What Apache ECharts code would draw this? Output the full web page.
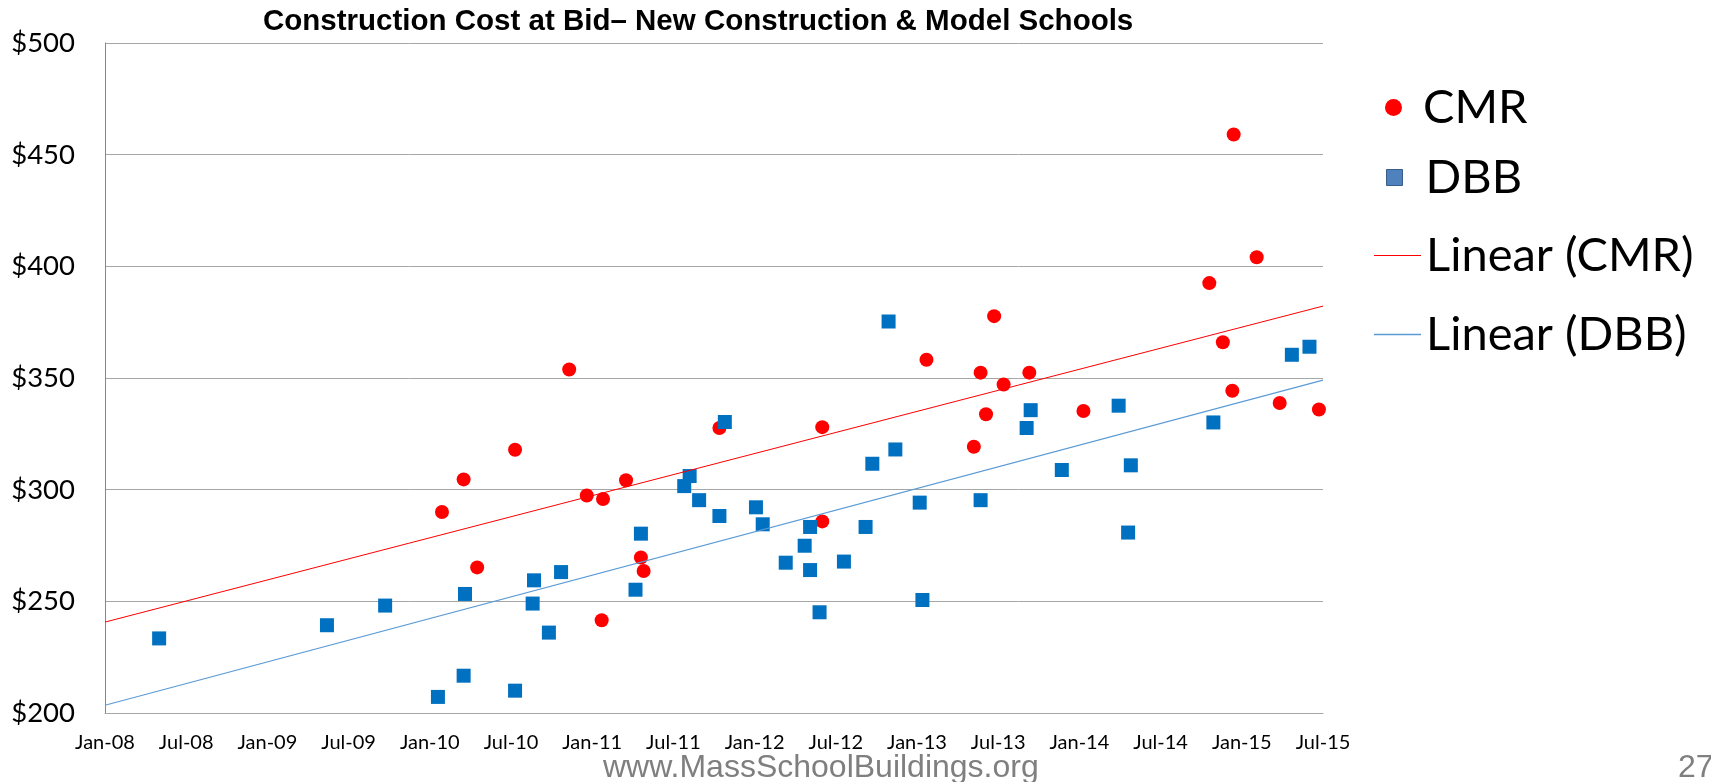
<!DOCTYPE html>
<html>
<head>
<meta charset="utf-8">
<title>Construction Cost at Bid</title>
<script src="https://cdn.jsdelivr.net/npm/echarts@6/dist/echarts.min.js"></script>
<style>
  html, body { margin: 0; padding: 0; background: #fff; }
  #chart { width: 1711px; height: 782px; }
</style>
</head>
<body>
<div id="chart"></div>
<script>
// x = months after Jan-08, y = cost in $
const cmrMonths = [24.9, 26.5, 27.5, 30.3, 34.3, 35.6, 36.8, 36.7, 38.5, 39.6, 39.8, 45.4, 53.0, 53.0, 60.7,
  64.2, 64.7, 65.1, 65.7, 66.4, 68.3, 72.3, 81.6, 82.6, 83.4, 83.3, 85.1, 86.8, 89.7]
const cmrCost = [290, 304.6, 265.2, 317.9, 353.8, 297.4, 295.8, 241.5, 304.2, 269.6, 263.6, 327.6, 328, 285.8, 358.2,
  319.2, 352.4, 333.8, 377.7, 347.1, 352.4, 335.2, 392.5, 366, 459, 344.3, 404.1, 338.8, 335.9]

const dbbMonths = [4.0, 16.4, 20.7, 24.6, 26.5, 26.6, 30.3, 31.7, 31.6, 32.8, 33.7, 39.2, 39.6, 42.8, 43.2,
  43.9, 45.4, 45.8, 48.1, 48.6, 50.3, 51.7, 52.1, 52.1, 52.8, 54.6, 56.2, 56.7, 57.9, 58.4,
  60.2, 60.4, 64.7, 68.1, 68.4, 70.7, 74.9, 75.6, 75.8, 81.9, 87.7, 89.0]
const dbbCost = [233.4, 239.3, 248.1, 207.2, 216.7, 253.3, 210, 259.4, 249, 236, 263.1, 255.2, 280.3, 301.6, 306.1,
  295.3, 288.2, 330.3, 292.1, 284.5, 267.3, 274.9, 283.3, 264, 245.1, 267.8, 283.3, 311.6, 375.3, 318,
  294.2, 250.6, 295.3, 327.6, 335.6, 308.8, 337.6, 280.8, 310.9, 330.1, 360.4, 364]

const xTickLabels = ['Jan-08', 'Jul-08', 'Jan-09', 'Jul-09', 'Jan-10', 'Jul-10', 'Jan-11', 'Jul-11',
  'Jan-12', 'Jul-12', 'Jan-13', 'Jul-13', 'Jan-14', 'Jul-14', 'Jan-15', 'Jul-15']

const xMax = (xTickLabels.length - 1) * 6

function pairs(xs, ys) {
  return xs.map((x, i) => [x, ys[i]])
}

// least squares trend line across the whole axis
function linear(xs, ys) {
  const n = xs.length
  const mx = xs.reduce((s, v) => s + v, 0) / n
  const my = ys.reduce((s, v) => s + v, 0) / n
  let sxy = 0, sxx = 0
  xs.forEach((x, i) => {
    sxy += (x - mx) * (ys[i] - my)
    sxx += (x - mx) * (x - mx)
  })
  const b = sxy / sxx
  const a = my - b * mx
  return [[0, a], [xMax, a + b * xMax]]
}

const legendText = {
  color: '#000',
  fontFamily: 'Lato',
  fontSize: 47
}

const option = {
  animation: false,
  backgroundColor: '#fff',
  title: {
    text: 'Construction Cost at Bid\u2013 New Construction & Model Schools',
    left: 258,
    top: 2,
    textStyle: {
      fontFamily: 'Liberation Sans',
      fontWeight: 'bold',
      fontSize: 29.5,
      color: '#000'
    }
  },
  grid: { left: 105, top: 43, width: 1218, height: 670 },
  legend: [
    {
      data: [{ name: 'CMR', icon: 'circle' }],
      left: 1385, top: 84,
      padding: 0,
      itemWidth: 17, itemHeight: 17,
      selectedMode: false,
      textStyle: Object.assign({ padding: [0, 0, 0, 16] }, legendText)
    },
    {
      data: [{ name: 'DBB', icon: 'rect', itemStyle: { color: '#4F81BD', borderColor: '#385D8A', borderWidth: 1 } }],
      left: 1386, top: 154,
      padding: 0,
      itemWidth: 16, itemHeight: 16,
      selectedMode: false,
      textStyle: Object.assign({ padding: [0, 0, 0, 18] }, legendText)
    },
    {
      data: [{ name: 'Linear (CMR)', icon: 'rect' }],
      left: 1374, top: 232,
      padding: 0,
      itemWidth: 47, itemHeight: 1.2,
      selectedMode: false,
      textStyle: legendText
    },
    {
      data: [{ name: 'Linear (DBB)', icon: 'rect' }],
      left: 1374, top: 311,
      padding: 0,
      itemWidth: 47, itemHeight: 1.5,
      selectedMode: false,
      textStyle: legendText
    }
  ],
  xAxis: {
    type: 'value',
    min: 0,
    max: xMax,
    interval: 6,
    axisLine: { show: true, lineStyle: { color: '#A6A6A6' } },
    axisTick: { show: false },
    splitLine: { show: false },
    axisLabel: {
      formatter: v => xTickLabels[v / 6],
      fontFamily: 'Lato',
      fontSize: 20,
      color: '#000',
      margin: 20,
      showMinLabel: true,
      showMaxLabel: true
    }
  },
  yAxis: {
    type: 'value',
    min: 200,
    max: 500,
    interval: 50,
    axisLine: { show: true, lineStyle: { color: '#868686' } },
    axisTick: { show: false },
    splitLine: { show: true, lineStyle: { color: '#A6A6A6' } },
    axisLabel: {
      formatter: '${value}',
      fontFamily: 'Lato',
      fontSize: 27.5,
      color: '#000',
      margin: 30
    }
  },
  series: [
    {
      name: 'CMR',
      type: 'scatter',
      symbol: 'circle',
      symbolSize: 14,
      itemStyle: { color: '#FF0000', opacity: 1 },
      z: 2,
      data: pairs(cmrMonths, cmrCost)
    },
    {
      name: 'DBB',
      type: 'scatter',
      symbol: 'rect',
      symbolSize: 14,
      itemStyle: { color: '#0070C0', opacity: 1 },
      z: 3,
      data: pairs(dbbMonths, dbbCost)
    },
    {
      name: 'Linear (CMR)',
      type: 'line',
      symbol: 'none',
      lineStyle: { color: '#FF0000', width: 1 },
      itemStyle: { color: '#FF0000' },
      z: 4,
      data: linear(cmrMonths, cmrCost)
    },
    {
      name: 'Linear (DBB)',
      type: 'line',
      symbol: 'none',
      lineStyle: { color: '#5B9BD5', width: 1.2 },
      itemStyle: { color: '#5B9BD5' },
      z: 4,
      data: linear(dbbMonths, dbbCost)
    }
  ],
  graphic: [
    {
      type: 'text',
      left: 603,
      top: 752,
      style: {
        text: 'www.MassSchoolBuildings.org',
        fontFamily: 'Liberation Sans',
        fontSize: 32,
        fill: '#7F7F7F'
      }
    },
    {
      type: 'text',
      left: 1678,
      top: 752,
      style: {
        text: '27',
        fontFamily: 'Liberation Sans',
        fontSize: 32,
        fill: '#7F7F7F'
      }
    }
  ]
}

const chart = echarts.init(document.getElementById('chart'))
chart.setOption(option)
</script>
</body>
</html>
